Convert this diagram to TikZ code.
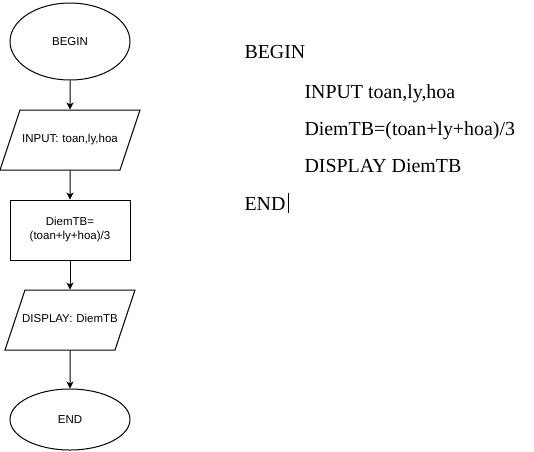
\documentclass[tikz,border=0pt]{standalone}
\usepackage{fontspec}
\setmainfont{Liberation Serif}
\newfontfamily\arial{Liberation Sans}
\usetikzlibrary{shapes.geometric,arrows.meta}
\begin{document}
\begin{tikzpicture}[x=1pt,y=-1pt,line width=1pt,
  oval/.style={draw,ellipse,minimum width=120pt,font=\arial\fontsize{11.5}{14}\selectfont},
  io/.style={draw,trapezium,trapezium left angle=71.57,trapezium right angle=108.43,
    text height=8pt,text depth=3pt,inner xsep=0pt,inner ysep=24.5pt,align=center,
    font=\arial\fontsize{11.5}{14}\selectfont},
  box/.style={draw,rectangle,minimum width=120pt,minimum height=60pt,align=center,font=\arial\fontsize{11.5}{14}\selectfont},
  code/.style={anchor=base west,inner sep=0pt,font=\fontsize{19.9}{24}\selectfont},
  flow/.style={-{Stealth[length=7pt,width=7pt,inset=2pt]}}]
\useasboundingbox (0,0) rectangle (534,451);
% flowchart
\node[oval,minimum height=77pt] (start) at (70,41.5) {BEGIN};
\node[io,text width=100pt] (input) at (70,140) {\makebox[100pt]{INPUT: toan,ly,hoa}};
\node[box] (calc) at (70,230) {DiemTB=\\(toan+ly+hoa)/3};
\node[io,text width=90pt] (output) at (70,320) {\makebox[90pt]{DISPLAY: DiemTB}};
\node[oval,minimum height=61pt] (stop) at (70,419.5) {END};
\draw[flow] (start) -- (input);
\draw[flow] (input) -- (calc);
\draw[flow] (calc) -- (output);
\draw[flow] (output) -- (stop);

% pseudo code
\node[code] (c1) at (244,58) {BEGIN};
\node[code] (c2) at (304,98) {INPUT toan,ly,hoa};
\node[code] (c3) at (304,135) {DiemTB=(toan+ly+hoa)/3};
\node[code] (c4) at (304,172) {DISPLAY DiemTB};
\node[code] (c5) at (244,210) {END};
\draw[line width=0.8pt] ([shift={(2,3)}]c5.base east) -- ([shift={(2,-17)}]c5.base east);
\end{tikzpicture}
\end{document}
